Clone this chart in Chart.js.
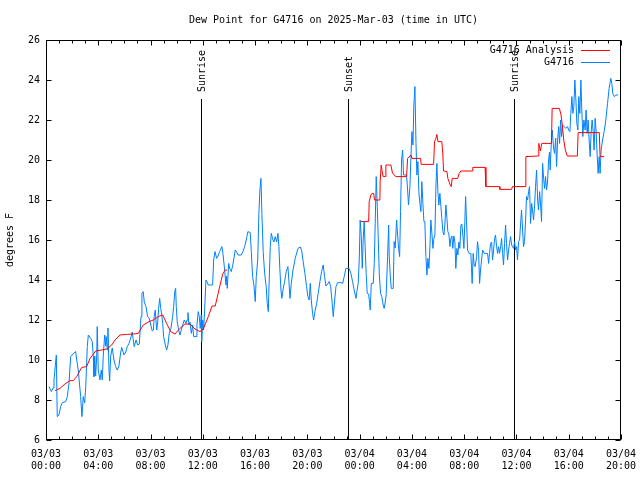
<!DOCTYPE html>
<html>
<head>
<meta charset="utf-8">
<script src="https://cdn.jsdelivr.net/npm/chart.js@4/dist/chart.umd.min.js"></script>
<style>
  body { margin: 0; background: #fff; }
  canvas { display: block; }
</style>
</head>
<body>
<canvas id="dewChart" width="640" height="480"></canvas>
<script>
// hours since 03/03 00:00 UTC
const obsHours = [
  0.23,0.41,0.54,0.61,0.74,0.79,0.86,0.99,1.12,1.25,
  1.51,1.63,1.76,1.89,2.07,2.27,2.35,2.47,2.65,2.75,
  2.85,2.96,3.04,3.16,3.24,3.42,3.54,3.62,3.67,3.73,
  3.80,3.88,3.92,4.00,4.13,4.23,4.31,4.38,4.49,4.57,
  4.61,4.69,4.74,4.82,4.87,4.95,5.07,5.20,5.33,5.45,
  5.58,5.71,5.79,5.97,6.10,6.22,6.35,6.48,6.60,6.68,
  6.75,6.89,7.02,7.14,7.27,7.34,7.44,7.52,7.65,7.78,
  7.90,8.13,8.22,8.28,8.36,8.47,8.55,8.62,8.70,8.78,
  8.85,8.93,9.00,9.13,9.23,9.33,9.43,9.56,9.69,9.77,
  9.85,9.92,9.97,10.04,10.15,10.25,10.35,10.46,10.58,10.71,
  10.79,10.86,10.94,11.02,11.12,11.22,11.30,11.40,11.48,11.55,
  11.65,11.73,11.80,11.88,11.91,11.99,12.06,12.14,12.24,12.32,
  12.42,12.62,12.75,12.83,12.93,13.06,13.16,13.29,13.46,13.54,
  13.67,13.77,13.82,13.87,13.98,14.05,14.18,14.31,14.48,14.59,
  14.69,14.94,15.07,15.20,15.32,15.45,15.63,15.71,15.81,15.91,
  16.01,16.09,16.20,16.29,16.37,16.45,16.52,16.62,16.73,16.85,
  16.93,17.01,17.08,17.16,17.24,17.37,17.44,17.54,17.65,17.75,
  17.82,17.90,17.98,18.05,18.13,18.26,18.38,18.51,18.59,18.67,
  18.77,18.90,19.07,19.28,19.47,19.58,19.68,19.81,19.94,20.04,
  20.14,20.22,20.30,20.40,20.48,20.58,20.71,20.83,20.96,21.09,
  21.21,21.32,21.42,21.55,21.67,21.78,21.88,21.98,22.09,22.19,
  22.32,22.57,22.70,22.82,22.95,23.20,23.33,23.46,23.58,23.72,
  23.79,23.89,23.97,24.04,24.12,24.20,24.27,24.35,24.43,24.50,
  24.58,24.69,24.76,24.81,24.89,25.04,25.12,25.19,25.27,25.35,
  25.42,25.50,25.60,25.70,25.80,25.88,25.96,26.03,26.14,26.22,
  26.26,26.34,26.42,26.57,26.64,26.72,26.83,26.90,26.98,27.06,
  27.13,27.21,27.29,27.36,27.59,27.67,27.74,27.85,27.92,28.00,
  28.08,28.15,28.23,28.31,28.38,28.46,28.53,28.61,28.69,28.76,
  28.84,28.92,28.99,29.07,29.15,29.22,29.30,29.38,29.45,29.53,
  29.61,29.68,29.76,29.84,29.91,29.99,30.06,30.14,30.22,30.29,
  30.37,30.45,30.52,30.60,30.68,30.75,30.83,30.91,30.98,31.06,
  31.13,31.21,31.29,31.36,31.44,31.52,31.59,31.67,31.75,31.82,
  31.90,31.98,32.05,32.11,32.18,32.26,32.38,32.51,32.56,32.61,
  32.69,32.76,32.84,32.95,33.02,33.10,33.18,33.25,33.33,33.41,
  33.53,33.66,33.79,33.87,33.94,34.02,34.10,34.17,34.25,34.33,
  34.40,34.48,34.56,34.63,34.71,34.79,34.86,34.94,35.01,35.09,
  35.17,35.24,35.32,35.40,35.47,35.55,35.63,35.70,35.78,35.86,
  35.93,36.01,36.08,36.16,36.24,36.31,36.39,36.47,36.54,36.62,
  36.70,36.77,36.85,36.93,37.00,37.08,37.16,37.23,37.31,37.39,
  37.46,37.54,37.62,37.69,37.77,37.85,37.92,38.00,38.08,38.15,
  38.23,38.30,38.38,38.46,38.53,38.58,38.66,38.74,38.84,38.92,
  39.00,39.07,39.15,39.23,39.30,39.38,39.45,39.53,39.65,39.78,
  39.91,39.99,40.09,40.16,40.24,40.32,40.39,40.47,40.55,40.62,
  40.70,40.77,40.85,40.93,41.00,41.08,41.16,41.26,41.33,41.41,
  41.49,41.56,41.64,41.71,41.79,41.87,41.94,42.02,42.10,42.17,
  42.25,42.33,42.40,42.48,42.59,42.71,42.84,42.97,43.09,43.22,
  43.30,43.37,43.48,43.61,43.78
];
const obsValues = [
  8.67,8.42,8.6,9.0,9.9,10.25,7.17,7.25,7.67,7.87,
  7.92,8.17,8.85,10.17,10.3,10.42,10.0,9.5,8.17,7.17,
  8.17,7.85,8.67,10.67,11.25,11.08,10.92,10.17,9.17,10.2,
  9.2,10.2,11.67,9.5,9.0,9.5,9.0,10.2,11.25,10.7,
  11.17,10.5,11.6,9.5,8.95,10.2,10.6,10.0,9.67,9.5,
  9.7,10.35,10.63,10.25,10.4,10.67,10.83,11.1,11.4,11.0,
  10.67,11.0,10.75,10.8,12.17,13.33,13.42,12.9,12.67,12.17,
  12.08,11.45,11.5,12.17,12.5,11.5,11.9,12.58,13.08,12.58,
  12.3,11.83,11.17,10.75,10.5,10.75,11.33,11.58,12.17,12.67,
  13.42,13.58,12.67,11.92,11.5,11.25,11.5,11.75,12.0,11.83,
  12.0,12.37,11.75,11.9,11.33,11.75,11.17,11.17,11.17,11.75,
  12.42,12.17,11.58,12.25,10.92,12.0,11.5,12.5,14.0,13.9,
  13.75,13.75,13.75,15.0,15.42,15.08,15.2,15.42,15.67,15.33,
  14.5,13.75,14.2,13.58,14.83,14.6,14.42,14.8,15.5,15.4,
  15.25,15.25,15.42,15.67,16.0,16.42,16.37,15.42,14.17,13.75,
  12.92,14.17,15.0,17.33,18.5,19.08,17.33,15.42,14.33,13.67,
  12.83,12.42,14.0,15.67,16.33,16.0,15.9,16.17,15.9,16.33,
  15.67,14.5,13.5,13.08,13.5,13.92,14.42,14.67,13.92,13.08,
  13.83,14.5,15.08,15.58,15.65,15.4,14.92,14.33,13.67,13.17,
  13.0,13.83,13.0,12.33,12.0,12.42,12.83,13.33,13.92,14.42,
  14.75,14.17,13.7,13.8,13.92,13.67,13.0,12.17,13.0,13.67,
  13.87,13.87,13.83,14.17,14.58,14.58,14.33,13.92,13.5,13.08,
  13.42,13.83,15.0,17.0,16.25,14.58,16.0,16.92,15.5,14.33,
  13.33,13.3,12.83,12.5,13.83,13.83,14.83,16.83,19.17,17.67,
  16.17,14.33,13.33,13.17,12.75,12.58,12.9,13.25,15.17,16.75,
  15.25,14.25,13.58,13.58,15.92,15.6,17.0,16.3,15.58,15.17,
  17.42,20.0,20.5,19.25,19.25,18.5,17.75,18.67,20.08,21.42,
  20.75,22.75,23.67,20.92,19.25,19.92,18.42,17.83,17.42,18.92,
  17.83,16.92,16.92,15.17,14.25,15.08,14.58,15.67,17.0,16.33,
  15.58,16.08,16.25,18.75,19.83,18.42,17.75,18.33,17.67,17.08,
  16.42,16.25,16.75,17.75,17.08,16.42,16.3,15.67,16.08,16.2,
  15.58,16.2,15.9,14.58,15.58,15.25,15.9,15.58,16.75,16.8,
  16.25,15.58,16.92,18.17,16.9,15.5,15.33,15.33,14.58,13.83,
  15.33,14.75,14.67,15.17,15.92,15.5,13.83,14.5,15.0,15.5,
  15.33,15.33,15.33,14.83,15.33,15.83,15.9,15.0,15.5,16.08,
  16.25,15.67,15.33,15.67,15.33,15.67,16.08,15.33,14.75,15.83,
  16.75,15.83,15.0,15.5,15.83,16.17,15.75,15.67,15.58,15.92,
  15.5,15.67,15.0,15.92,16.0,16.75,17.5,16.5,15.67,15.92,
  17.0,18.17,18.0,18.42,18.67,16.83,17.83,17.5,17.0,17.75,
  18.67,19.5,18.0,17.5,18.42,17.75,16.92,19.83,19.08,18.58,
  19.17,18.5,18.9,20.0,20.4,19.5,20.75,21.5,20.6,20.33,
  21.1,19.67,21.0,21.67,20.83,22.0,21.17,21.75,21.67,21.58,
  21.67,21.5,21.42,22.33,23.17,22.33,22.67,24.0,23.0,21.83,
  21.5,23.17,22.33,24.0,22.5,21.17,22.0,21.5,22.5,21.33,
  22.0,21.0,20.17,21.33,22.0,21.42,20.5,22.08,21.42,20.33,
  19.33,20.17,19.33,20.5,21.0,21.42,22.0,22.83,23.58,24.08,
  23.83,23.33,23.17,23.25,23.25
];

// analysis series, null = no data
const anaHours = [
  0.69,1.07,1.45,1.84,2.09,2.35,2.73,3.11,3.37,3.80,
  4.26,4.64,5.03,5.28,5.66,6.17,6.68,7.06,7.44,7.83,
  8.21,8.59,8.93,9.23,9.54,9.87,10.25,10.63,11.02,11.40,
  11.78,12.03,12.42,12.70,12.95,13.29,13.54,13.72,13.87,14.0,
  24.10,24.69,24.73,24.86,24.94,25.07,25.14,25.55,25.57,25.65,
  25.73,25.80,25.96,26.01,26.39,26.52,26.78,27.59,27.67,27.92,
  28.00,28.66,28.71,29.66,29.73,29.84,29.91,29.99,30.29,30.37,
  30.42,30.68,30.75,30.93,31.01,31.08,31.50,31.62,31.75,32.61,
  32.66,33.60,33.66,34.68,34.73,35.63,35.69,36.67,36.72,37.66,
  37.71,37.83,37.94,38.68,38.73,39.28,39.40,39.51,39.62,39.74,
  39.89,40.66,40.72,42.34,42.40,42.71
];
const anaValues = [
  8.47,8.58,8.8,8.97,8.97,9.17,9.63,9.67,10.08,10.45,
  10.5,10.55,10.75,11.0,11.25,11.28,11.3,11.33,11.75,11.9,
  12.0,12.17,12.25,11.83,11.42,11.3,11.58,11.8,11.8,11.55,
  11.42,11.55,12.17,12.7,12.7,13.67,14.33,14.5,14.5,null,
  16.92,16.92,17.92,18.25,18.33,18.33,18.0,18.0,18.92,19.75,
  19.4,19.17,19.17,19.75,19.75,19.33,19.17,19.17,20.08,20.25,
  20.08,20.08,19.78,19.78,20.92,21.08,21.28,20.92,20.92,20.25,
  19.45,19.42,19.08,18.75,18.67,19.08,19.08,19.33,19.45,19.45,
  19.63,19.63,18.67,18.67,18.53,18.53,18.67,18.67,20.17,20.2,
  20.83,20.45,20.83,20.83,22.58,22.58,22.3,21.75,21.0,20.5,
  20.2,20.2,21.37,21.37,20.17,20.17
];

const eventLabels = ['Sunrise', 'Sunset', 'Sunrise'];
const eventHours = [11.88, 23.13, 35.83];
const eventTop = 23.05;

const xTickLabels = [
  ['03/03', '00:00'], ['03/03', '04:00'], ['03/03', '08:00'], ['03/03', '12:00'],
  ['03/03', '16:00'], ['03/03', '20:00'], ['03/04', '00:00'], ['03/04', '04:00'],
  ['03/04', '08:00'], ['03/04', '12:00'], ['03/04', '16:00'], ['03/04', '20:00']
];

const FONT = '10px "DejaVu Sans Mono"';
const titleText = 'Dew Point for G4716 on 2025-Mar-03 (time in UTC)';

const gnuplotLook = {
    id: 'gnuplotLook',
    beforeDatasetsDraw(chart) {
        const ctx = chart.ctx;
        const xs = chart.scales.x, ys = chart.scales.y;
        const area = chart.chartArea;
        ctx.save();
        ctx.strokeStyle = '#000';
        ctx.lineWidth = 1;
        eventHours.forEach(h => {
            const x = Math.round(xs.getPixelForValue(h)) + 0.5;
            ctx.beginPath();
            ctx.moveTo(x, Math.round(ys.getPixelForValue(eventTop)));
            ctx.lineTo(x, area.bottom);
            ctx.stroke();
        });
        ctx.restore();
    },
    afterDraw(chart) {
        const ctx = chart.ctx;
        const xs = chart.scales.x, ys = chart.scales.y;
        const a = chart.chartArea;
        ctx.save();
        ctx.strokeStyle = '#000';
        ctx.lineWidth = 1;
        const L = Math.round(a.left) + 0.5, R = Math.round(a.right) - 0.5;
        const T = Math.round(a.top) + 0.5, B = Math.round(a.bottom) - 0.5;
        ctx.strokeRect(L, T, R - L, B - T);

        // inward tics
        ctx.beginPath();
        for (let v = 6; v <= 26; v += 2) {
            const y = Math.round(ys.getPixelForValue(v)) + 0.5;
            ctx.moveTo(L, y); ctx.lineTo(L + 5, y);
            ctx.moveTo(R, y); ctx.lineTo(R - 5, y);
        }
        for (let h = 0; h <= 44; h++) {
            const x = Math.round(xs.getPixelForValue(h)) + 0.5;
            const len = h % 4 === 0 ? 5 : 3;
            ctx.moveTo(x, B); ctx.lineTo(x, B - len);
            ctx.moveTo(x, T); ctx.lineTo(x, T + len);
        }
        ctx.stroke();

        ctx.fillStyle = '#000';
        ctx.font = FONT;

        // title
        ctx.textAlign = 'center';
        ctx.textBaseline = 'middle';
        ctx.fillText(titleText, (a.left + a.right) / 2, 20);

        // event labels
        eventHours.forEach((h, i) => {
            const x = Math.round(xs.getPixelForValue(h)) + 1;
            const y = ys.getPixelForValue(eventTop) - 7;
            ctx.save();
            ctx.translate(x, y);
            ctx.rotate(-Math.PI / 2);
            ctx.textAlign = 'left';
            ctx.textBaseline = 'middle';
            ctx.fillText(eventLabels[i], 0, 0);
            ctx.restore();
        });

        // key
        chart.data.datasets.forEach((ds, i) => {
            const y = 50 + i * 12;
            ctx.fillStyle = '#000';
            ctx.textAlign = 'right';
            ctx.textBaseline = 'middle';
            ctx.fillText(ds.label, 574, y);
            ctx.strokeStyle = ds.borderColor;
            ctx.beginPath();
            ctx.moveTo(581, y + 0.5);
            ctx.lineTo(610, y + 0.5);
            ctx.stroke();
        });
        ctx.restore();
    }
};

const ctx = document.getElementById('dewChart').getContext('2d');
new Chart(ctx, {
    type: 'line',
    data: {
        datasets: [{
            label: 'G4716 Analysis',
            data: anaHours.map((h, i) => ({ x: h, y: anaValues[i] })),
            borderColor: '#ff0000',
            borderWidth: 1,
            pointRadius: 0,
            tension: 0,
            spanGaps: false
        }, {
            label: 'G4716',
            data: obsHours.map((h, i) => ({ x: h, y: obsValues[i] })),
            borderColor: '#0080ff',
            borderWidth: 1,
            pointRadius: 0,
            tension: 0
        }]
    },
    options: {
        responsive: false,
        animation: false,
        devicePixelRatio: 1,
        layout: {
            padding: { top: 40, right: 19, left: 0, bottom: 0 }
        },
        plugins: {
            legend: { display: false },
            title: { display: false },
            tooltip: { enabled: false }
        },
        scales: {
            x: {
                type: 'linear',
                min: 0,
                max: 44,
                grid: { display: false, drawTicks: false },
                border: { display: false },
                ticks: {
                    stepSize: 4,
                    autoSkip: false,
                    maxRotation: 0,
                    padding: 8,
                    color: '#000',
                    font: { family: 'DejaVu Sans Mono', size: 10 },
                    callback: v => xTickLabels[v / 4]
                },
                afterFit: scale => {
                    scale.height = 40;
                    // labels may hang past the plot edges, like gnuplot
                    scale.paddingLeft = 0;
                    scale.paddingRight = 0;
                }
            },
            y: {
                min: 6,
                max: 26,
                grid: { display: false, drawTicks: false },
                border: { display: false },
                ticks: {
                    stepSize: 2,
                    padding: 6,
                    color: '#000',
                    font: { family: 'DejaVu Sans Mono', size: 10 }
                },
                title: {
                    display: true,
                    text: 'degrees F',
                    color: '#000',
                    font: { family: 'DejaVu Sans Mono', size: 10 }
                },
                afterFit: scale => {
                    scale.width = 46;
                    scale.paddingTop = 0;
                    scale.paddingBottom = 0;
                }
            }
        }
    },
    plugins: [gnuplotLook]
});
</script>
</body>
</html>
